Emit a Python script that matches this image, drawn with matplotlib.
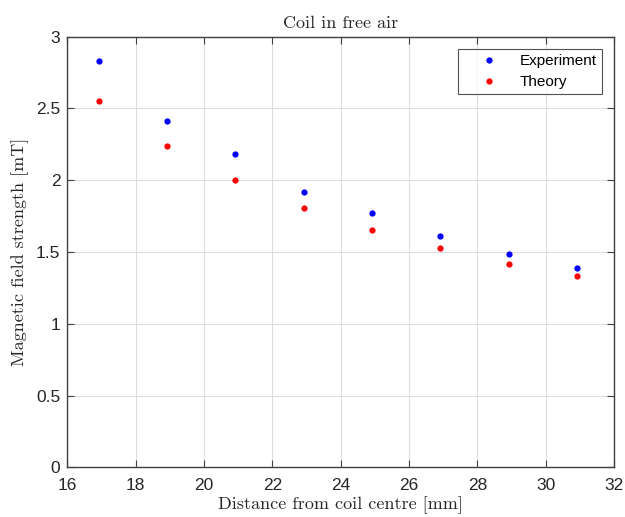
import numpy as np
import matplotlib
matplotlib.use("Agg")
import matplotlib.pyplot as plt


# Distance from the coil centre [mm]
distance = np.array([16.92, 18.92, 20.92, 22.92, 24.92, 26.92, 28.92, 30.92])
# Measured and computed field strength [mT]
experiment = np.array([2.83, 2.41, 2.18, 1.92, 1.775, 1.615, 1.485, 1.39])
theory = np.array([2.55, 2.24, 2.00, 1.81, 1.655, 1.525, 1.415, 1.33])

x_ticks = [16, 18, 20, 22, 24, 26, 28, 30, 32]
y_ticks = [0, 0.5, 1, 1.5, 2, 2.5, 3]


def plot_coil(distance, experiment, theory):
    """Scatter of experiment vs theory for the coil in free air."""
    fig = plt.figure(figsize=(6.25, 5.17), dpi=100)
    ax = fig.add_axes([0.1077, 0.0961, 0.8747, 0.8329])

    ax.plot(distance, experiment, 'o', color='#0000ff', markersize=4.5,
            markeredgewidth=0, label='Experiment', zorder=5)
    ax.plot(distance, theory, 'o', color='#ff0000', markersize=4.5,
            markeredgewidth=0, label='Theory', zorder=5)

    ax.set_xlim(16, 32)
    ax.set_ylim(0, 3)
    ax.set_xticks(x_ticks)
    ax.set_yticks(y_ticks)
    ax.set_yticklabels(['0', '0.5', '1', '1.5', '2', '2.5', '3'])

    # MATLAB-ish look
    spine_col = '#404040'
    for s in ax.spines.values():
        s.set_color(spine_col)
        s.set_linewidth(1.0)
    ax.tick_params(direction='in', length=5, width=0.8, color=spine_col,
                   top=True, right=True, labelsize=12.5, labelcolor='#262626')
    ax.tick_params(axis='x', pad=8)
    ax.tick_params(axis='y', pad=5)
    for lab in ax.get_xticklabels() + ax.get_yticklabels():
        lab.set_family('Liberation Sans')
    ax.grid(True, color='#dedede', linewidth=0.8)
    ax.set_axisbelow(True)

    serif = dict(family='cmr10', fontsize=13, color='#262626')
    ax.set_title('Coil in free air', pad=6, **serif)
    ax.set_xlabel('Distance from coil centre [mm]', labelpad=2, **serif)
    ax.set_ylabel('Magnetic field strength [mT]', labelpad=5, **serif)

    leg = ax.legend(loc='upper right', bbox_to_anchor=(0.978, 0.972),
                    borderaxespad=0,
                    prop={'family': 'Liberation Sans', 'size': 11},
                    frameon=True, fancybox=False, edgecolor='#262626',
                    handletextpad=0.3, borderpad=0.35, labelspacing=0.45,
                    handlelength=3.4)
    leg.get_frame().set_linewidth(0.8)

    fig.savefig("out.png", dpi=100)


def main():
    plot_coil(distance, experiment, theory)


if __name__ == '__main__':
    main()
